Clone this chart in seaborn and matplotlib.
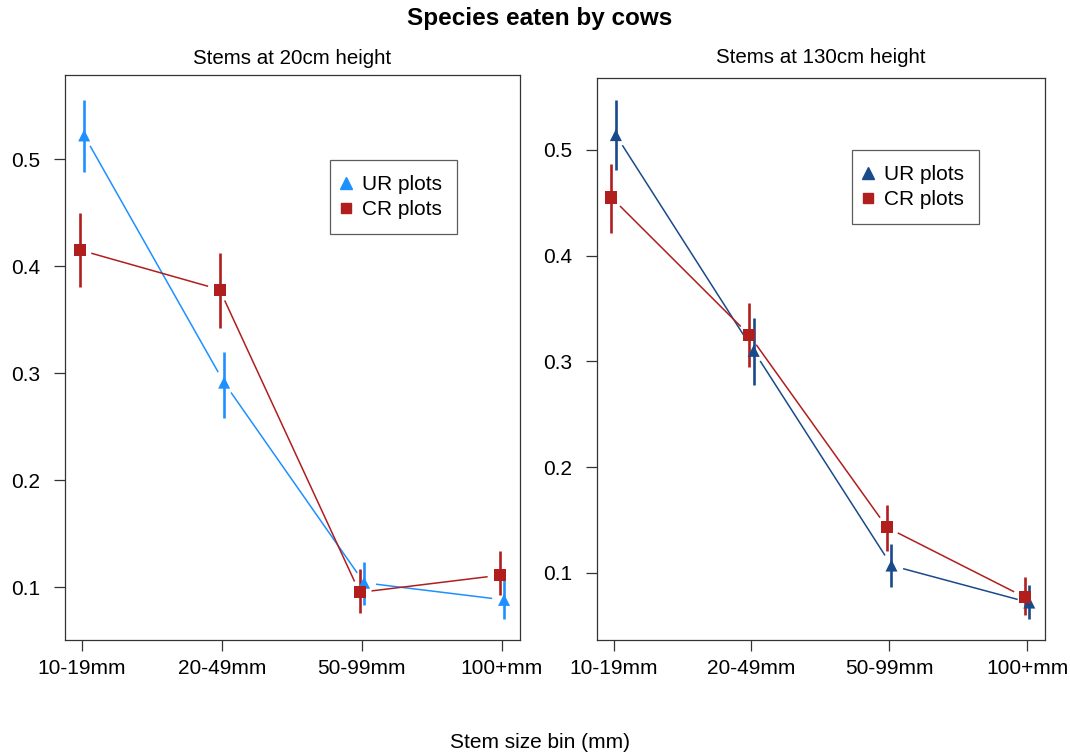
import numpy as np
import pandas as pd
import matplotlib
matplotlib.use("Agg")
import matplotlib.pyplot as plt
import seaborn as sns
from matplotlib.lines import Line2D

sns.set_theme(style="white")
plt.rcParams['font.family'] = ['Liberation Sans', 'DejaVu Sans']
plt.rcParams['text.color'] = 'black'
plt.rcParams['xtick.color'] = 'black'
plt.rcParams['ytick.color'] = 'black'

bins = ["10-19mm", "20-49mm", "50-99mm", "100+mm"]

# Stems at 20cm height
ur20 = [0.522, 0.291, 0.104, 0.088]
ur20_lo = [0.488, 0.258, 0.083, 0.070]
ur20_hi = [0.555, 0.320, 0.123, 0.107]
cr20 = [0.415, 0.378, 0.095, 0.111]
cr20_lo = [0.380, 0.342, 0.076, 0.093]
cr20_hi = [0.450, 0.412, 0.117, 0.134]

# Stems at 130cm height
ur130 = [0.514, 0.310, 0.107, 0.072]
ur130_lo = [0.481, 0.278, 0.087, 0.056]
ur130_hi = [0.547, 0.341, 0.127, 0.089]
cr130 = [0.455, 0.325, 0.143, 0.077]
cr130_lo = [0.421, 0.295, 0.121, 0.060]
cr130_hi = [0.487, 0.355, 0.164, 0.096]

RED = "#B01E1E"
BLUE_L = "#1E90FF"
BLUE_D = "#1A4A8A"

fig = plt.figure(figsize=(10.7, 7.55), dpi=100)
ax1 = fig.add_axes([65/1070, 1-640/755, 455/1070, 565/755])
ax2 = fig.add_axes([597/1070, 1-640/755, 448/1070, 562/755])


def gapped_line(ax, xs, ys, color, gap=12):
    """Connect points like R type='b': segments stop short of each point."""
    pts = ax.transData.transform(np.column_stack([xs, ys]))
    inv = ax.transData.inverted()
    for p0, p1 in zip(pts[:-1], pts[1:]):
        d = p1 - p0
        L = np.hypot(*d)
        if L <= 2 * gap:
            continue
        u = d / L
        a = inv.transform(p0 + gap * u)
        b = inv.transform(p1 - gap * u)
        ax.plot([a[0], b[0]], [a[1], b[1]], color=color, lw=1.1,
                solid_capstyle="butt", zorder=2)


def panel(ax, ur, ur_lo, ur_hi, cr, cr_lo, cr_hi, ublue, ylim, title,
          title_off, leg_anchor):
    xi = np.arange(1, len(bins) + 1)
    off = 0.016
    df = pd.DataFrame({
        "x": np.concatenate([xi + off, xi - off]),
        "y": ur + cr,
        "lo": ur_lo + cr_lo,
        "hi": ur_hi + cr_hi,
        "grp": ["UR plots"] * len(bins) + ["CR plots"] * len(bins),
    })
    pal = {"UR plots": ublue, "CR plots": RED}
    ax.set_xlim(0.879, 4.13)
    ax.set_ylim(*ylim)
    for g, c in pal.items():
        d = df[df.grp == g]
        gapped_line(ax, d.x.values, d.y.values, c)
        ax.vlines(d.x, d.lo, d.hi, color=c, lw=1.9, zorder=3)
    sns.scatterplot(data=df, x="x", y="y", hue="grp", style="grp",
                    markers={"UR plots": "^", "CR plots": "s"},
                    palette=pal, s=75, edgecolor="none", ax=ax, legend=False,
                    zorder=4)
    ax.set_xlim(0.879, 4.13)
    ax.set_ylim(*ylim)
    ax.set_xticks(xi)
    ax.set_xticklabels(bins, fontsize=15)
    ax.set_yticks([0.1, 0.2, 0.3, 0.4, 0.5])
    ax.set_yticklabels(["0.1", "0.2", "0.3", "0.4", "0.5"], fontsize=15)
    ax.set_xlabel("")
    ax.set_ylabel("")
    ax.tick_params(axis="both", which="both", direction="out", length=8,
                   width=0.9, color="#333333", left=True, bottom=True)
    ax.tick_params(axis="y", pad=10)
    ax.tick_params(axis="x", pad=6)
    for s in ax.spines.values():
        s.set_color("#333333")
        s.set_linewidth(0.9)
    ax.text(0.5, 1 + title_off, title, transform=ax.transAxes, ha="center",
            va="center", fontsize=14.8)
    handles = [Line2D([], [], marker="^", color=ublue, ls="none", ms=8),
               Line2D([], [], marker="s", color=RED, ls="none", ms=6.5)]
    leg = ax.legend(handles, ["UR plots", "CR plots"], loc="upper left",
                    bbox_to_anchor=leg_anchor, fontsize=15, frameon=True,
                    fancybox=False, edgecolor="#333333", handletextpad=0.7,
                    handlelength=0.1, borderpad=0.72, labelspacing=0.3,
                    borderaxespad=0)
    leg.get_frame().set_linewidth(0.9)


panel(ax1, ur20, ur20_lo, ur20_hi, cr20, cr20_lo, cr20_hi, BLUE_L,
      (0.0505, 0.5785), "Stems at 20cm height", 17/565,
      ((330-65)/455, (640-160)/565))
panel(ax2, ur130, ur130_lo, ur130_hi, cr130, cr130_lo, cr130_hi, BLUE_D,
      (0.0366, 0.568), "Stems at 130cm height", 20/562,
      ((852-597)/448, (640-150)/562))

fig.text(540/1070, 1-18/755, "Species eaten by cows", ha="center", va="center",
         fontsize=17.5, fontweight="bold")
fig.text(540/1070, 1-742/755, "Stem size bin (mm)", ha="center", va="center",
         fontsize=15)

fig.savefig("out.png", dpi=100, facecolor="white")
